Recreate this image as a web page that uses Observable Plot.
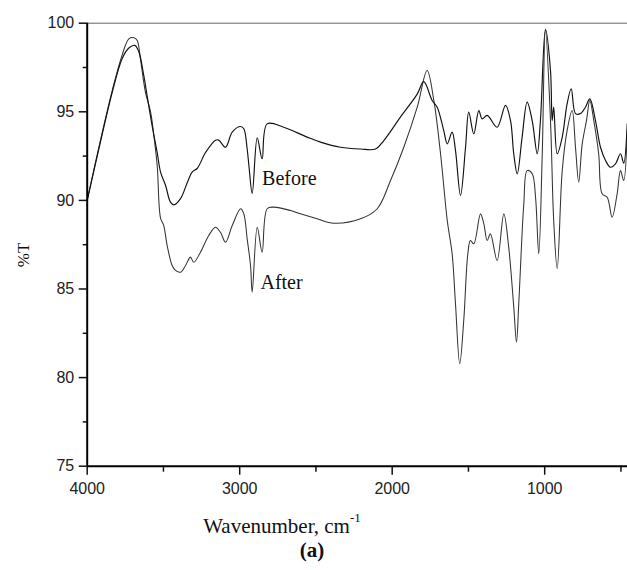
<!DOCTYPE html>
<html>
<head>
<meta charset="utf-8">
<script src="https://cdn.jsdelivr.net/npm/d3@7"></script>
<script src="https://cdn.jsdelivr.net/npm/@observablehq/plot@0.6"></script>
<style>
  html, body { margin: 0; padding: 0; background: #fff; }
  #chart { width: 627px; height: 570px; }
</style>
</head>
<body>
<div id="chart"></div>
<script>
// Tick values
const wnTicks = [4000, 3000, 2000, 1000];
const wnMinor = [3500, 2500, 1500, 500];
const tTicks = [75, 80, 85, 90, 95, 100];
const tMinor = [77.5, 82.5, 87.5, 92.5, 97.5];

// "Before" spectrum (wavenumber, %T)
const beforeWn = [4000, 3913, 3836, 3771, 3727, 3688, 3662, 3629, 3607, 3574, 3541, 3519, 3486, 3454, 3432, 3388, 3344, 3312, 3279, 3224, 3159, 3137, 3093, 3049, 2994, 2973, 2951, 2940, 2918, 2885, 2853, 2820, 2711, 2557, 2470, 2339, 2208, 2110, 2055, 1946, 1836, 1793, 1738, 1705, 1662, 1639, 1607, 1585, 1552, 1519, 1498, 1465, 1432, 1410, 1377, 1312, 1257, 1224, 1203, 1180, 1148, 1115, 1082, 1049, 1028, 995, 962, 951, 941, 918, 885, 853, 826, 798, 765, 733, 704, 667, 634, 601, 569, 536, 503, 482, 459];
const beforeT = [90.0, 93.3, 96.1, 98.0, 98.6, 98.75, 98.4, 97.05, 95.9, 94.2, 92.7, 91.6, 90.84, 89.9, 89.75, 90.1, 91.0, 91.6, 91.8, 92.7, 93.4, 93.4, 93.0, 93.85, 94.17, 94.04, 92.9, 92.0, 90.4, 93.53, 92.35, 94.32, 94.13, 93.57, 93.29, 93.0, 92.9, 92.9, 93.38, 94.7, 96.0, 96.7, 95.64, 95.26, 93.94, 93.19, 93.85, 92.82, 90.28, 93.0, 94.98, 93.76, 95.07, 94.6, 94.8, 94.13, 95.36, 94.5, 92.63, 91.5, 93.57, 95.55, 94.5, 92.63, 94.5, 99.65, 97.33, 94.5, 95.26, 92.63, 93.57, 95.45, 96.3, 94.9, 94.9, 95.26, 95.73, 94.5, 93.0, 92.25, 91.87, 92.06, 92.63, 92.1, 94.32];

// "After" spectrum (wavenumber, %T)
const afterWn = [4000, 3913, 3836, 3771, 3727, 3694, 3672, 3651, 3618, 3584, 3563, 3541, 3519, 3498, 3476, 3443, 3421, 3388, 3355, 3323, 3301, 3257, 3203, 3159, 3126, 3093, 3049, 2994, 2973, 2951, 2929, 2918, 2885, 2853, 2820, 2776, 2667, 2601, 2492, 2383, 2208, 2098, 2011, 1924, 1836, 1771, 1727, 1683, 1639, 1607, 1585, 1557, 1531, 1504, 1487, 1465, 1421, 1399, 1377, 1356, 1312, 1268, 1236, 1203, 1185, 1170, 1137, 1115, 1082, 1060, 1039, 1016, 995, 962, 941, 918, 885, 853, 820, 798, 777, 754, 726, 704, 678, 646, 623, 590, 558, 525, 503, 482, 459];
const afterT = [90.0, 93.4, 96.2, 98.2, 99.12, 99.18, 99.02, 97.99, 96.1, 94.98, 93.66, 91.97, 89.0, 88.58, 87.46, 86.33, 86.05, 85.95, 86.33, 86.8, 86.51, 87.08, 88.02, 88.49, 88.2, 87.64, 88.58, 89.53, 89.24, 87.83, 86.33, 84.82, 88.49, 87.08, 89.53, 89.62, 89.43, 89.24, 88.96, 88.71, 88.96, 89.53, 91.12, 93.0, 95.26, 97.33, 95.64, 92.63, 88.87, 86.99, 84.17, 80.78, 83.2, 86.99, 87.73, 87.55, 89.24, 88.68, 87.74, 88.11, 86.61, 89.24, 87.36, 84.0, 82.0, 84.17, 89.8, 91.68, 91.5, 90.18, 86.99, 92.63, 99.6, 94.5, 88.87, 86.14, 91.68, 93.94, 95.07, 93.0, 91.03, 93.19, 94.5, 95.64, 94.5, 92.63, 90.37, 90.18, 89.05, 90.37, 91.68, 91.12, 93.94];

// Curve labels
const labels = ["Before", "After"];
const labelWn = [2853, 2864];
const labelT = [91.22, 85.38];

const before = beforeWn.map((w, i) => ({wn: w, t: beforeT[i]}));
const after = afterWn.map((w, i) => ({wn: w, t: afterT[i]}));
const labelData = labels.map((s, i) => ({s, wn: labelWn[i], t: labelT[i]}));

const sans = "'Liberation Sans', Arial, sans-serif";
const serif = "'Liberation Serif', 'Times New Roman', serif";

const chart = Plot.plot({
  width: 627,
  height: 570,
  marginTop: 22.7,
  marginLeft: 86.7,
  marginRight: 0,
  marginBottom: 104.3,
  style: {background: "#fff", color: "#222", overflow: "visible"},
  x: {domain: [4000, 457], axis: null},
  y: {domain: [75, 100], axis: null},
  marks: [
    Plot.ruleY([100], {stroke: "#666", strokeWidth: 1}),
    Plot.line(after, {x: "wn", y: "t", stroke: "#333", strokeWidth: 1.05, curve: "catmull-rom"}),
    Plot.line(before, {x: "wn", y: "t", stroke: "#111", strokeWidth: 1.15, curve: "catmull-rom"}),
    Plot.text(labelData, {x: "wn", y: "t", text: "s", textAnchor: "start", lineAnchor: "middle", fontSize: 20, fontFamily: serif, fill: "#111"}),
    Plot.axisY({ticks: tTicks, tickSize: 8, tickPadding: 5, fontSize: 16, fontFamily: sans, tickFormat: d => String(d), label: null, stroke: "#111", strokeWidth: 1.5}),
    Plot.axisY({ticks: tMinor, tickSize: 4, tickFormat: () => "", label: null, stroke: "#111", strokeWidth: 1.5}),
    Plot.axisX({ticks: wnTicks, tickSize: 9, tickPadding: 7, fontSize: 16, fontFamily: sans, tickFormat: d => String(d), label: null, stroke: "#111", strokeWidth: 1.5}),
    Plot.axisX({ticks: wnMinor, tickSize: 6, tickFormat: () => "", label: null, stroke: "#111", strokeWidth: 1.5}),
    Plot.ruleX([4000], {stroke: "#000", strokeWidth: 2}),
    Plot.ruleY([75], {stroke: "#000", strokeWidth: 2})
  ]
});

document.getElementById("chart").appendChild(chart);

// Axis titles and caption
const svg = d3.select(chart);
const xl = svg.append("text")
  .attr("x", 282).attr("y", 533)
  .attr("font-family", serif).attr("font-size", 21).attr("fill", "#111");
xl.append("tspan").text("Wavenumber, cm");
xl.append("tspan").attr("dy", -11).attr("font-size", 13).text("-1");

svg.append("text")
  .attr("x", 312).attr("y", 557)
  .attr("font-family", serif).attr("font-size", 21).attr("font-weight", "bold").attr("fill", "#111")
  .text("(a)");

svg.append("text")
  .attr("transform", "translate(29,255) rotate(-90)")
  .attr("text-anchor", "middle")
  .attr("font-family", serif).attr("font-size", 17).attr("fill", "#111")
  .text("%T");
</script>
</body>
</html>
